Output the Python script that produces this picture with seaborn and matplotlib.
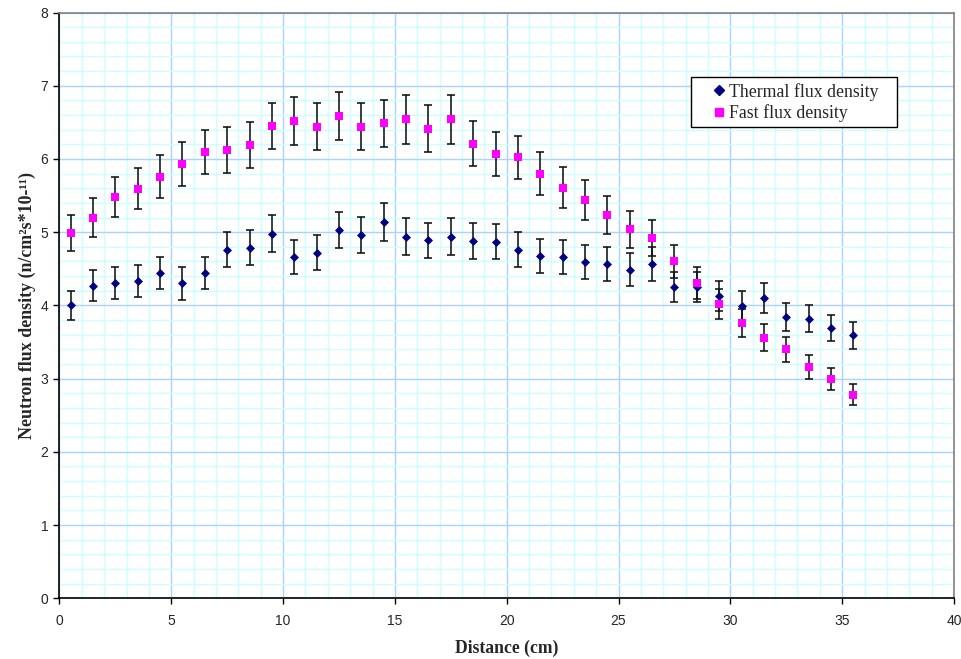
import numpy as np
import pandas as pd
import matplotlib
matplotlib.use("Agg")
import matplotlib.pyplot as plt
from matplotlib.ticker import MultipleLocator
from matplotlib.lines import Line2D
import seaborn as sns

distance = [0.5, 1.5, 2.5, 3.5, 4.5, 5.5, 6.5, 7.5, 8.5, 9.5, 10.5, 11.5,
            12.5, 13.5, 14.5, 15.5, 16.5, 17.5, 18.5, 19.5, 20.5, 21.5, 22.5, 23.5,
            24.5, 25.5, 26.5, 27.5, 28.5, 29.5, 30.5, 31.5, 32.5, 33.5, 34.5, 35.5]

thermal = [4.00, 4.27, 4.31, 4.33, 4.44, 4.30, 4.44, 4.76, 4.79, 4.98, 4.66, 4.72,
           5.03, 4.96, 5.14, 4.94, 4.89, 4.94, 4.88, 4.87, 4.76, 4.67, 4.66, 4.59,
           4.57, 4.49, 4.57, 4.25, 4.25, 4.13, 3.99, 4.10, 3.84, 3.82, 3.69, 3.59]
thermal_err = [0.20, 0.21, 0.22, 0.22, 0.22, 0.22, 0.22, 0.24, 0.24, 0.25, 0.23, 0.24,
               0.25, 0.25, 0.26, 0.25, 0.24, 0.25, 0.24, 0.24, 0.24, 0.23, 0.23, 0.23,
               0.23, 0.22, 0.23, 0.21, 0.21, 0.21, 0.20, 0.21, 0.19, 0.19, 0.18, 0.18]

fast = [4.99, 5.20, 5.48, 5.59, 5.76, 5.93, 6.09, 6.12, 6.19, 6.45, 6.52, 6.44,
        6.59, 6.44, 6.49, 6.54, 6.41, 6.54, 6.21, 6.07, 6.02, 5.80, 5.61, 5.44,
        5.24, 5.04, 4.92, 4.60, 4.31, 4.02, 3.76, 3.56, 3.40, 3.16, 2.99, 2.78]
fast_err = [0.25, 0.26, 0.27, 0.28, 0.29, 0.30, 0.30, 0.31, 0.31, 0.32, 0.33, 0.32,
            0.33, 0.32, 0.32, 0.33, 0.32, 0.33, 0.31, 0.30, 0.30, 0.29, 0.28, 0.27,
            0.26, 0.25, 0.25, 0.23, 0.22, 0.20, 0.19, 0.18, 0.17, 0.16, 0.15, 0.14]

series_names = ["Thermal flux density", "Fast flux density"]
colors = {"Thermal flux density": "#000080", "Fast flux density": "#FF00FF"}
markers = {"Thermal flux density": "D", "Fast flux density": "s"}
marker_area = {"Thermal flux density": 21, "Fast flux density": 31}

df = pd.DataFrame({
    "Distance": distance * 2,
    "Flux": thermal + fast,
    "Err": thermal_err + fast_err,
    "Series": [series_names[0]] * len(distance) + [series_names[1]] * len(distance),
})

sns.set_style("white")
plt.rcParams["font.family"] = ["Liberation Sans", "DejaVu Sans"]

fig = plt.figure(figsize=(9.62, 6.59), dpi=100)
ax_w_px = 954 - 59.5
ax_h_px = 598.3 - 12.5
ax = fig.add_axes([59.5 / 962, 1 - 598.3 / 659, ax_w_px / 962, ax_h_px / 659])

for name in series_names:
    sub = df[df["Series"] == name]
    ax.errorbar(sub["Distance"], sub["Flux"], yerr=sub["Err"], fmt="none",
                ecolor="#111111", elinewidth=1.15, capsize=2.6, capthick=1.15, zorder=3)
    sns.scatterplot(data=sub, x="Distance", y="Flux", color=colors[name],
                    marker=markers[name], s=marker_area[name], linewidth=0,
                    ax=ax, zorder=4, legend=False)

ax.set_xlim(0, 40)
ax.set_ylim(0, 8)
ax.xaxis.set_major_locator(MultipleLocator(5))
ax.xaxis.set_minor_locator(MultipleLocator(1))
ax.yaxis.set_major_locator(MultipleLocator(1))
ax.yaxis.set_minor_locator(MultipleLocator(0.2))
ax.grid(which="minor", color="#CCFFFF", linewidth=1.0, zorder=0)
ax.grid(which="major", color="#A8D4FF", linewidth=1.0, zorder=1)
ax.set_axisbelow(True)

ax.tick_params(axis="x", which="major", direction="out", length=4, width=1,
               color="black", labelsize=10, pad=7, bottom=True)
ax.tick_params(axis="y", which="major", direction="out", length=4, width=1,
               color="black", labelsize=10, pad=4, left=True)
ax.tick_params(which="minor", length=0)

for side in ["left", "bottom"]:
    ax.spines[side].set_color("black")
    ax.spines[side].set_linewidth(1.2)
for side in ["top", "right"]:
    ax.spines[side].set_color("#808080")
    ax.spines[side].set_linewidth(1.2)

ax.set_xlabel("Distance (cm)", family="Liberation Serif", fontweight="bold",
              fontsize=12.7, labelpad=8.5)
ax.set_ylabel("Neutron flux density (n/cm²s*10-¹¹)", family="Liberation Serif",
              fontweight="bold", fontsize=12.9, labelpad=3.5)

handles = [Line2D([], [], linestyle="none", marker=markers[n], color=colors[n],
                  markersize=4.7 if n == series_names[0] else 5.6) for n in series_names]
leg_x0 = (691 - 59.5) / ax_w_px
leg_w = 206 / ax_w_px
leg_top = 1 - (77.3 - 12.5) / ax_h_px
leg_h = 46 / ax_h_px
leg = ax.legend(handles, series_names, loc="upper left",
                bbox_to_anchor=(leg_x0, leg_top - leg_h, leg_w, leg_h), mode="expand",
                frameon=True, fancybox=False, edgecolor="black", framealpha=1,
                prop={"family": "Liberation Serif", "size": 12.8},
                handlelength=2.55, handletextpad=-0.71, borderpad=0.3, labelspacing=0.2,
                borderaxespad=0)
leg.get_frame().set_linewidth(1.0)

fig.savefig("out.png", dpi=100)
